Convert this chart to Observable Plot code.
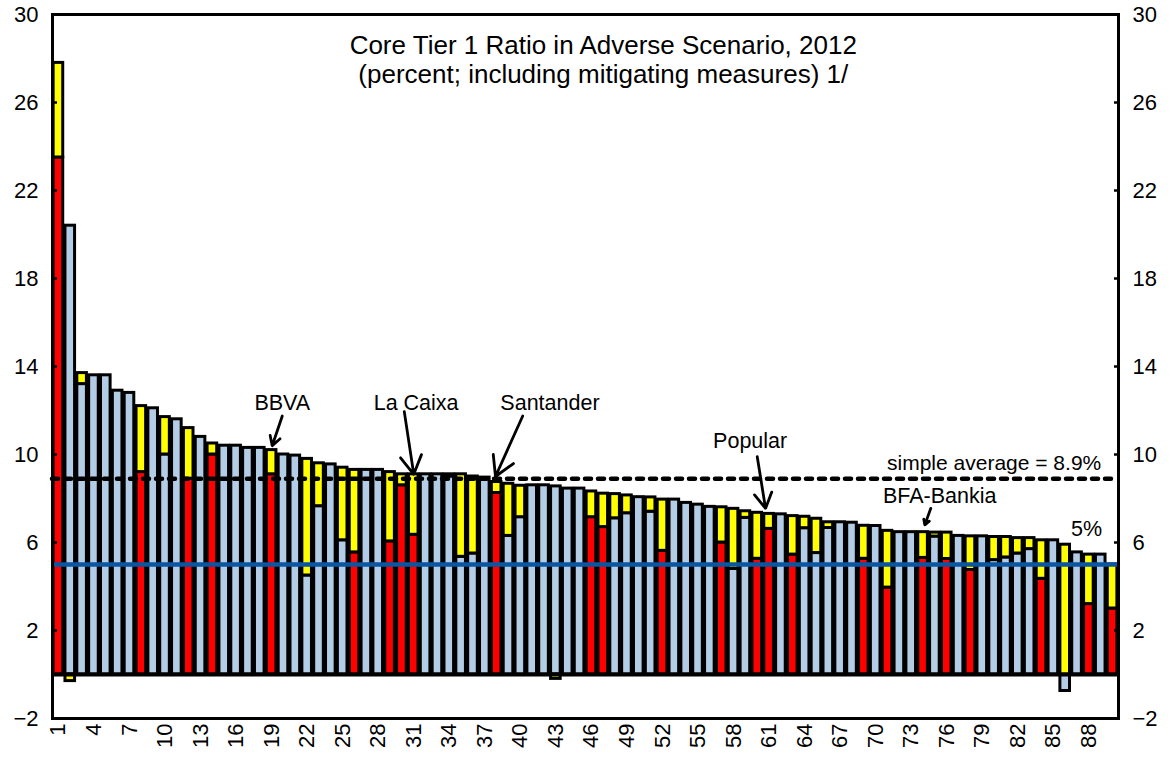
<!DOCTYPE html>
<html><head><meta charset="utf-8">
<script src="https://cdn.jsdelivr.net/npm/d3@7"></script>
<script src="https://cdn.jsdelivr.net/npm/@observablehq/plot@0.6"></script>
<style>body{margin:0;background:#fff} svg{display:block}</style>
</head><body><div id="chart"></div>
<script>
// ---- data ----
const bankRank = d3.range(1, 91);
const coreRatio = [
  23.5, 20.4, 13.2, 13.6, 13.6, 12.9, 12.8, 9.2, 12.1, 10.0,
  11.6, 8.9, 10.8, 10.0, 10.4, 10.4, 10.3, 10.3, 9.1, 10.0,
  9.95, 4.5, 7.65, 9.55, 6.1, 5.55, 9.3, 9.3, 6.05, 8.6,
  6.35, 9.1, 9.1, 9.0, 5.35, 5.5, 8.95, 8.25, 6.3, 7.15,
  8.6, 8.6, 8.55, 8.45, 8.45, 7.15, 6.7, 7.1, 7.33, 8.06,
  7.4, 5.62, 7.95, 7.8, 7.72, 7.62, 6.0, 4.8, 7.12, 5.26,
  6.62, 7.28, 5.45, 6.65, 5.52, 6.66, 6.92, 6.9, 5.26, 6.75,
  3.95, 6.47, 6.47, 5.3, 6.27, 5.25, 6.3, 4.75, 6.28, 5.2,
  5.32, 5.5, 5.7, 4.35, 6.1, -0.75, 5.55, 3.2, 5.45, 3.0
];
const mitigatingMeasures = [
  4.3, -0.3, 0.5, 0, 0, 0, 0, 3.0, 0, 1.7,
  0, 2.3, 0, 0.5, 0, 0, 0, 0, 1.1, 0,
  0, 5.3, 1.95, 0, 3.3, 3.75, 0, 0, 3.15, 0.5,
  2.75, 0, 0, 0.1, 3.75, 3.5, 0, 0.5, 2.37, 1.43,
  0, 0, -0.2, 0, 0, 1.17, 1.52, 1.1, 0.81, 0,
  0.65, 2.33, 0, 0, 0, 0, 1.6, 2.73, 0.3, 2.09,
  0.68, 0, 1.75, 0.52, 1.56, 0.26, 0, 0, 1.5, 0,
  2.58, 0, 0, 1.17, 0.18, 1.2, 0, 1.53, 0, 1.05,
  0.93, 0.7, 0.5, 1.75, 0, 5.9, 0, 2.25, 0, 2.0
];
const savingsBankRanks = [1, 8, 12, 14, 19, 26, 29, 30, 31, 38, 46, 47, 52, 57, 60, 61, 63, 69, 71, 74, 76, 78, 84, 88, 90];
const xTickValues = d3.range(1, 89, 3);
const yTickValues = [-2, 2, 6, 10, 14, 18, 22, 26, 30];
const simpleAverage = 8.9;
const minimumRatio = 5;
const titleLines = ["Core Tier 1 Ratio in Adverse Scenario, 2012", "(percent; including mitigating measures) 1/"];
const calloutNames = ["BBVA", "La Caixa", "Santander", "Popular", "BFA-Bankia"];

// ---- derived tables ----
const coreSegments = bankRank.map((r, i) => ({
  rank: r, y1: 0, y2: coreRatio[i],
  group: savingsBankRanks.includes(r) ? "savings" : "other"
}));
const measureSegments = bankRank.map((r, i) => {
  const m = mitigatingMeasures[i], c = coreRatio[i];
  const start = m >= 0 ? Math.max(c, 0) : Math.min(c, 0);
  return {rank: r, y1: start, y2: start + m, group: "measures", m};
}).filter(d => d.m !== 0);

// annotation layout (data units)
const calloutLayout = [
  {tx: 19.9, ty: 12.35, x1: 19.9, y1: 11.75, x2: 19.05, y2: 10.4},
  {tx: 31.2, ty: 12.35, x1: 30.2, y1: 11.95, x2: 31.0, y2: 9.1},
  {tx: 42.5, ty: 12.35, x1: 40.2, y1: 11.75, x2: 37.9, y2: 9.0},
  {tx: 59.4, ty: 10.6, x1: 60.0, y1: 9.9, x2: 60.7, y2: 7.55},
  {tx: 75.4, ty: 8.1, x1: 74.65, y1: 7.55, x2: 74.15, y2: 6.8}
];
const callouts = calloutNames.map((name, i) => ({name, ...calloutLayout[i]}));

const font = "Liberation Sans, Arial, sans-serif";
const pad = 1.12; // px inset per side

const chart = Plot.plot({
  width: 1172, height: 757,
  marginLeft: 52, marginRight: 54, marginTop: 14, marginBottom: 39,
  style: {fontFamily: font, fontSize: "22px", background: "white", color: "black"},
  x: {domain: [0.5, 90.5], axis: null},
  y: {domain: [-2, 30], axis: null},
  color: {domain: ["savings", "other", "measures"], range: ["#FF0000", "#B4CDE6", "#FFFF00"]},
  marks: [
    Plot.rectY(coreSegments, {x1: d => d.rank - 0.5, x2: d => d.rank + 0.5, y1: "y1", y2: "y2",
      fill: "group", stroke: "black", strokeWidth: 3, insetLeft: pad, insetRight: pad}),
    Plot.rectY(measureSegments, {x1: d => d.rank - 0.5, x2: d => d.rank + 0.5, y1: "y1", y2: "y2",
      fill: "group", stroke: "black", strokeWidth: 3, insetLeft: pad, insetRight: pad}),
    Plot.ruleY([0], {stroke: "black", strokeWidth: 4}),
    Plot.ruleY([simpleAverage], {stroke: "black", strokeWidth: 4.5, strokeDasharray: "6,7", strokeLinecap: "round"}),
    Plot.ruleY([minimumRatio], {stroke: "#0A56A0", strokeWidth: 4.5}),
    Plot.frame({stroke: "black", strokeWidth: 3}),
    Plot.axisY(yTickValues, {anchor: "left", tickSize: -5, tickPadding: 19, strokeWidth: 2.5, fontSize: 22, label: null}),
    Plot.axisY(yTickValues, {anchor: "right", tickSize: -5, tickPadding: 19, strokeWidth: 2.5, fontSize: 22, label: null}),
    Plot.axisX(xTickValues, {anchor: "bottom", tickSize: 0, tickPadding: 5, tickRotate: -90, fontSize: 22, label: null}),
    Plot.text(titleLines, {x: 47, y: (d, i) => i === 0 ? 28.6 : 27.25, text: d => d, fontSize: 26}),
    Plot.text(callouts, {x: "tx", y: "ty", text: "name", fontSize: 21.5}),
    Plot.arrow(callouts, {x1: "x1", y1: "y1", x2: "x2", y2: "y2", stroke: "black", strokeWidth: 2.8, headLength: 16, headAngle: 60}),
    Plot.text([`simple average = ${simpleAverage}%`], {x: 80.0, y: 9.6, text: d => d, fontSize: 21}),
    Plot.text([`${minimumRatio}%`], {x: 87.8, y: 6.6, text: d => d, fontSize: 21.5})
  ]
});
document.getElementById("chart").append(chart);
</script>
</body></html>
